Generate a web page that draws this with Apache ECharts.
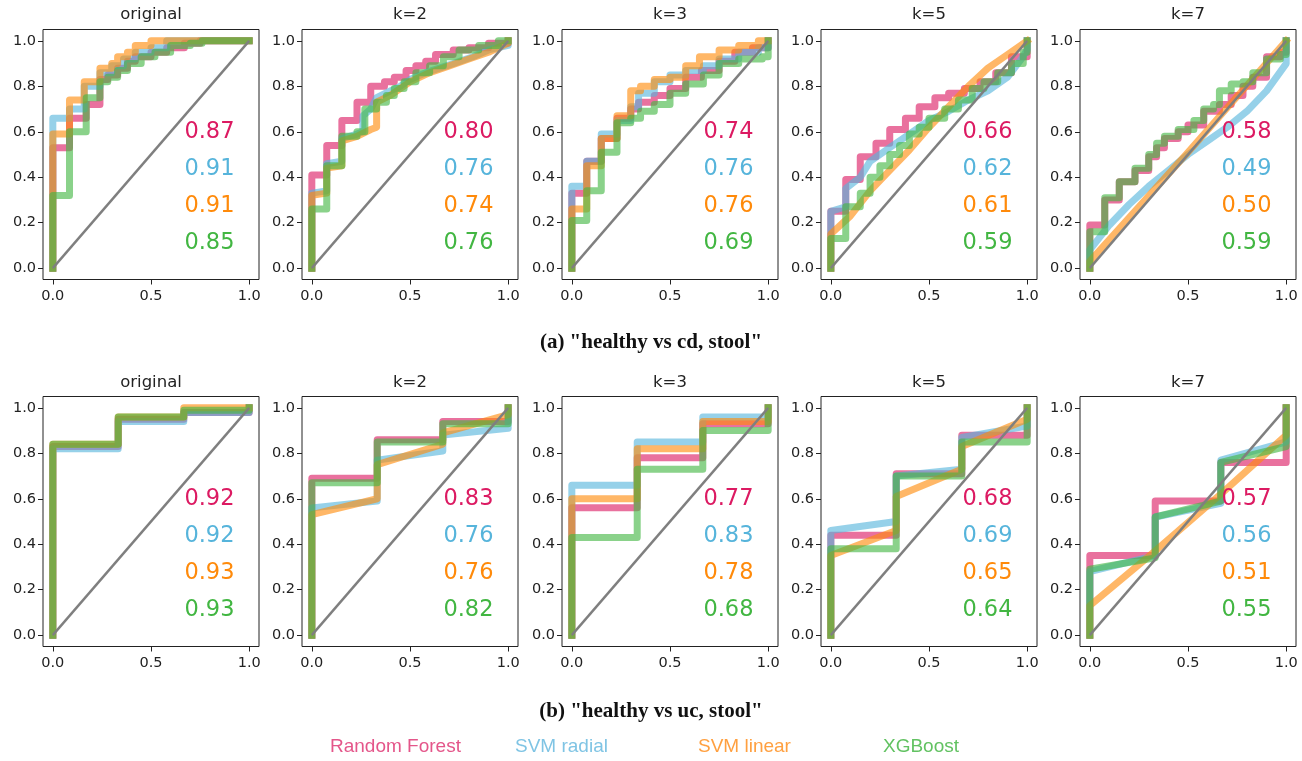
<!DOCTYPE html>
<html><head><meta charset="utf-8">
<script src="https://cdn.jsdelivr.net/npm/echarts@6/dist/echarts.min.js"></script>
<style>html,body{margin:0;padding:0;background:#fff}#c{width:1302px;height:761px}</style>
</head><body><div id="c"></div>
<script>
// ---------- DATA ----------
const panelTitles = ['original', 'k=2', 'k=3', 'k=5', 'k=7'];
const models = ['Random Forest', 'SVM radial', 'SVM linear', 'XGBoost'];
const captions = ['(a) "healthy vs cd, stool"', '(b) "healthy vs uc, stool"'];
const xTickValues = [0, 0.5, 1];
const yTickValues = [0, 0.2, 0.4, 0.6, 0.8, 1];
const diagonal = [[0, 0], [1, 1]];

// AUC values per panel: [RF, SVM radial, SVM linear, XGBoost]
const aucCd = [[0.87, 0.91, 0.91, 0.85], [0.80, 0.76, 0.74, 0.76], [0.74, 0.76, 0.76, 0.69], [0.66, 0.62, 0.61, 0.59], [0.58, 0.49, 0.50, 0.59]];
const aucUc = [[0.92, 0.92, 0.93, 0.93], [0.83, 0.76, 0.76, 0.82], [0.77, 0.83, 0.78, 0.68], [0.68, 0.69, 0.65, 0.64], [0.57, 0.56, 0.51, 0.55]];

// ROC curves [fpr, tpr]; order: RF, SVM radial, SVM linear, XGBoost
const cdOriginal = [
  [[0,0],[0,0.53],[0.085,0.53],[0.085,0.66],[0.17,0.66],[0.17,0.72],[0.24,0.72],[0.24,0.83],[0.28,0.83],[0.28,0.85],[0.33,0.85],[0.33,0.88],[0.38,0.88],[0.38,0.91],[0.42,0.91],[0.42,0.93],[0.5,0.93],[0.5,0.95],[0.58,0.95],[0.58,0.97],[0.67,0.97],[0.67,0.99],[0.75,0.99],[0.75,1],[1,1]],
  [[0,0],[0,0.66],[0.085,0.66],[0.085,0.70],[0.16,0.70],[0.16,0.80],[0.24,0.80],[0.24,0.86],[0.3,0.86],[0.3,0.89],[0.36,0.89],[0.36,0.92],[0.42,0.92],[0.42,0.95],[0.5,0.95],[0.5,0.97],[0.58,0.97],[0.58,1],[1,1]],
  [[0,0],[0,0.59],[0.085,0.59],[0.085,0.74],[0.16,0.74],[0.16,0.82],[0.24,0.82],[0.24,0.88],[0.3,0.88],[0.3,0.9],[0.33,0.9],[0.33,0.93],[0.38,0.93],[0.38,0.95],[0.42,0.95],[0.42,0.98],[0.5,0.98],[0.5,1],[1,1]],
  [[0,0],[0,0.32],[0.085,0.32],[0.085,0.60],[0.17,0.60],[0.17,0.75],[0.24,0.75],[0.24,0.82],[0.28,0.82],[0.28,0.84],[0.33,0.84],[0.33,0.87],[0.38,0.87],[0.38,0.9],[0.45,0.9],[0.45,0.93],[0.52,0.93],[0.52,0.95],[0.6,0.95],[0.6,0.98],[0.7,0.98],[0.7,0.99],[0.76,0.99],[0.76,1],[1,1]]
];
const cdK2 = [
  [[0,0],[0,0.41],[0.076,0.41],[0.076,0.54],[0.153,0.54],[0.153,0.65],[0.23,0.65],[0.23,0.73],[0.3,0.73],[0.3,0.8],[0.37,0.8],[0.37,0.82],[0.42,0.82],[0.42,0.84],[0.48,0.84],[0.48,0.87],[0.53,0.87],[0.53,0.89],[0.58,0.89],[0.58,0.91],[0.63,0.91],[0.63,0.94],[0.72,0.94],[0.72,0.96],[0.8,0.96],[0.8,0.97],[0.9,0.97],[0.9,0.99],[1,0.99],[1,1]],
  [[0,0],[0,0.33],[0.076,0.34],[0.076,0.46],[0.153,0.47],[0.153,0.57],[0.23,0.59],[0.26,0.6],[0.26,0.67],[0.3,0.7],[0.33,0.75],[0.4,0.78],[0.45,0.8],[0.5,0.83],[0.58,0.86],[0.65,0.88],[0.72,0.9],[0.82,0.93],[0.9,0.96],[1,0.98],[1,1]],
  [[0,0],[0,0.32],[0.076,0.33],[0.076,0.44],[0.153,0.45],[0.153,0.56],[0.23,0.58],[0.3,0.61],[0.33,0.62],[0.33,0.73],[0.4,0.76],[0.45,0.79],[0.5,0.82],[0.6,0.86],[0.7,0.89],[0.8,0.92],[0.9,0.95],[1,0.99],[1,1]],
  [[0,0],[0,0.26],[0.076,0.26],[0.076,0.45],[0.153,0.45],[0.153,0.58],[0.23,0.58],[0.23,0.6],[0.27,0.6],[0.27,0.7],[0.33,0.7],[0.33,0.73],[0.38,0.73],[0.38,0.76],[0.42,0.76],[0.42,0.79],[0.47,0.79],[0.47,0.82],[0.53,0.82],[0.53,0.86],[0.6,0.86],[0.6,0.89],[0.67,0.89],[0.67,0.93],[0.75,0.93],[0.75,0.96],[0.85,0.96],[0.85,0.98],[0.95,0.98],[0.95,1],[1,1]]
];
const cdK3 = [
  [[0,0],[0,0.33],[0.076,0.33],[0.076,0.47],[0.15,0.47],[0.15,0.57],[0.23,0.57],[0.23,0.66],[0.3,0.66],[0.3,0.7],[0.34,0.7],[0.34,0.73],[0.42,0.73],[0.42,0.76],[0.5,0.76],[0.5,0.79],[0.58,0.79],[0.58,0.84],[0.66,0.84],[0.66,0.87],[0.75,0.87],[0.75,0.91],[0.83,0.91],[0.83,0.95],[0.92,0.95],[0.92,0.97],[1,0.97],[1,1]],
  [[0,0],[0,0.36],[0.076,0.36],[0.076,0.47],[0.15,0.47],[0.15,0.59],[0.23,0.59],[0.23,0.65],[0.3,0.65],[0.3,0.71],[0.34,0.71],[0.34,0.77],[0.42,0.77],[0.42,0.82],[0.5,0.82],[0.5,0.85],[0.58,0.85],[0.58,0.87],[0.67,0.87],[0.67,0.89],[0.75,0.89],[0.75,0.92],[0.85,0.92],[0.85,0.95],[0.95,0.95],[0.95,0.97],[1,0.97],[1,1]],
  [[0,0],[0,0.26],[0.076,0.26],[0.076,0.45],[0.15,0.45],[0.15,0.57],[0.23,0.57],[0.23,0.67],[0.3,0.67],[0.3,0.78],[0.35,0.78],[0.35,0.8],[0.42,0.8],[0.42,0.83],[0.5,0.83],[0.5,0.84],[0.58,0.84],[0.58,0.89],[0.65,0.89],[0.65,0.93],[0.75,0.93],[0.75,0.96],[0.85,0.96],[0.85,0.98],[0.95,0.98],[0.95,1],[1,1]],
  [[0,0],[0,0.21],[0.076,0.21],[0.076,0.34],[0.15,0.34],[0.15,0.51],[0.23,0.51],[0.23,0.64],[0.3,0.64],[0.3,0.66],[0.35,0.66],[0.35,0.69],[0.42,0.69],[0.42,0.72],[0.5,0.72],[0.5,0.77],[0.58,0.77],[0.58,0.81],[0.67,0.81],[0.67,0.85],[0.75,0.85],[0.75,0.9],[0.85,0.9],[0.85,0.92],[0.97,0.92],[0.97,0.93],[1,0.93],[1,1]]
];
const cdK5 = [
  [[0,0],[0,0.25],[0.076,0.25],[0.076,0.39],[0.15,0.39],[0.15,0.49],[0.23,0.49],[0.23,0.55],[0.3,0.55],[0.3,0.61],[0.38,0.61],[0.38,0.66],[0.45,0.66],[0.45,0.71],[0.53,0.71],[0.53,0.75],[0.6,0.75],[0.6,0.77],[0.68,0.77],[0.68,0.79],[0.76,0.79],[0.76,0.82],[0.84,0.82],[0.84,0.86],[0.92,0.86],[0.92,0.93],[1,0.93],[1,1]],
  [[0,0],[0,0.25],[0.076,0.27],[0.076,0.35],[0.15,0.4],[0.2,0.47],[0.3,0.53],[0.4,0.59],[0.5,0.65],[0.6,0.69],[0.7,0.74],[0.8,0.78],[0.9,0.84],[0.97,0.92],[1,0.96],[1,1]],
  [[0,0],[0,0.15],[0.1,0.23],[0.2,0.34],[0.3,0.43],[0.4,0.52],[0.5,0.62],[0.6,0.71],[0.7,0.8],[0.8,0.88],[0.9,0.94],[1,1]],
  [[0,0],[0,0.13],[0.076,0.13],[0.076,0.27],[0.15,0.27],[0.15,0.33],[0.2,0.33],[0.2,0.4],[0.25,0.4],[0.25,0.45],[0.3,0.45],[0.3,0.5],[0.35,0.5],[0.35,0.54],[0.4,0.54],[0.4,0.59],[0.45,0.59],[0.45,0.62],[0.5,0.62],[0.5,0.66],[0.58,0.66],[0.58,0.7],[0.65,0.7],[0.65,0.74],[0.72,0.74],[0.72,0.79],[0.78,0.79],[0.78,0.82],[0.85,0.82],[0.85,0.86],[0.92,0.86],[0.92,0.9],[0.98,0.9],[0.98,0.95],[1,0.95],[1,1]]
];
const cdK7 = [
  [[0,0],[0,0.19],[0.076,0.19],[0.076,0.3],[0.15,0.3],[0.15,0.38],[0.23,0.38],[0.23,0.43],[0.3,0.43],[0.3,0.49],[0.34,0.49],[0.34,0.53],[0.38,0.53],[0.38,0.57],[0.45,0.57],[0.45,0.6],[0.5,0.6],[0.5,0.63],[0.58,0.63],[0.58,0.69],[0.66,0.69],[0.66,0.72],[0.72,0.72],[0.72,0.76],[0.78,0.76],[0.78,0.8],[0.83,0.8],[0.83,0.84],[0.9,0.84],[0.9,0.93],[0.97,0.93],[0.97,0.95],[1,0.95],[1,1]],
  [[0,0],[0,0.08],[0.1,0.19],[0.2,0.28],[0.3,0.36],[0.4,0.43],[0.5,0.5],[0.6,0.56],[0.7,0.62],[0.8,0.69],[0.9,0.78],[1,0.9],[1,1]],
  [[0,0],[0,0.03],[0.5,0.51],[1,1]],
  [[0,0],[0,0.16],[0.076,0.16],[0.076,0.31],[0.15,0.31],[0.15,0.38],[0.23,0.38],[0.23,0.44],[0.3,0.44],[0.3,0.5],[0.34,0.5],[0.34,0.55],[0.38,0.55],[0.38,0.58],[0.45,0.58],[0.45,0.61],[0.53,0.61],[0.53,0.65],[0.58,0.65],[0.58,0.7],[0.63,0.7],[0.63,0.72],[0.66,0.72],[0.66,0.78],[0.72,0.78],[0.72,0.81],[0.78,0.81],[0.78,0.82],[0.83,0.82],[0.83,0.86],[0.9,0.86],[0.9,0.92],[0.97,0.92],[0.97,0.94],[1,0.94],[1,1]]
];
const ucOriginal = [
  [[0,0],[0,0.83],[0.333,0.83],[0.333,0.95],[0.667,0.95],[0.667,0.98],[1,0.98],[1,1]],
  [[0,0],[0,0.82],[0.333,0.82],[0.333,0.94],[0.667,0.94],[0.667,0.98],[1,0.98],[1,1]],
  [[0,0],[0,0.84],[0.333,0.84],[0.333,0.96],[0.667,0.96],[0.667,1],[1,1]],
  [[0,0],[0,0.84],[0.333,0.84],[0.333,0.96],[0.667,0.96],[0.667,0.99],[1,0.99],[1,1]]
];
const ucK2 = [
  [[0,0],[0,0.69],[0.333,0.69],[0.333,0.86],[0.667,0.86],[0.667,0.94],[1,0.94],[1,1]],
  [[0,0],[0,0.56],[0.333,0.59],[0.333,0.77],[0.667,0.81],[0.667,0.88],[1,0.91],[1,1]],
  [[0,0],[0,0.53],[0.333,0.6],[0.333,0.75],[0.667,0.84],[0.667,0.89],[1,0.97],[1,1]],
  [[0,0],[0,0.67],[0.333,0.67],[0.333,0.85],[0.667,0.85],[0.667,0.93],[1,0.93],[1,1]]
];
const ucK3 = [
  [[0,0],[0,0.56],[0.333,0.56],[0.333,0.78],[0.667,0.78],[0.667,0.93],[1,0.93],[1,1]],
  [[0,0],[0,0.66],[0.333,0.66],[0.333,0.85],[0.667,0.85],[0.667,0.96],[1,0.96],[1,1]],
  [[0,0],[0,0.6],[0.333,0.6],[0.333,0.82],[0.667,0.82],[0.667,0.94],[1,0.94],[1,1]],
  [[0,0],[0,0.43],[0.333,0.43],[0.333,0.73],[0.667,0.73],[0.667,0.9],[1,0.9],[1,1]]
];
const ucK5 = [
  [[0,0],[0,0.44],[0.333,0.44],[0.333,0.71],[0.667,0.71],[0.667,0.88],[1,0.88],[1,1]],
  [[0,0],[0,0.46],[0.333,0.5],[0.333,0.7],[0.667,0.73],[0.667,0.87],[1,0.92],[1,1]],
  [[0,0],[0,0.35],[0.333,0.46],[0.333,0.61],[0.667,0.73],[0.667,0.83],[1,0.95],[1,1]],
  [[0,0],[0,0.38],[0.333,0.38],[0.333,0.7],[0.667,0.7],[0.667,0.85],[1,0.85],[1,1]]
];
const ucK7 = [
  [[0,0],[0,0.35],[0.333,0.35],[0.333,0.59],[0.667,0.59],[0.667,0.76],[1,0.76],[1,1]],
  [[0,0],[0,0.28],[0.333,0.35],[0.333,0.52],[0.667,0.58],[0.667,0.77],[1,0.85],[1,1]],
  [[0,0],[0,0.13],[0.333,0.37],[0.667,0.62],[1,0.88],[1,1]],
  [[0,0],[0,0.29],[0.333,0.34],[0.333,0.52],[0.667,0.59],[0.667,0.76],[1,0.83],[1,1]]
];

const rows = [
  { curves: [cdOriginal, cdK2, cdK3, cdK5, cdK7], auc: aucCd },
  { curves: [ucOriginal, ucK2, ucK3, ucK5, ucK7], auc: aucUc }
];

// ---------- STYLE / LAYOUT ----------
const modelColors = ['#dc1a62', '#56b4db', '#ff8a0a', '#42b642'];
const legendColors = ['#e4568a', '#7fc4e4', '#ffa040', '#62c262'];
const boxLefts = [43, 302, 562, 821, 1080];
const boxW = 216, boxH = 250;
const rowTops = [29.5, 396.5];
const titleYs = [15, 383];
const captionYs = [343, 712];
const legendXs = [330, 515, 698, 883];
const legendY = 747;
const aucYs = [0.60, 0.436, 0.272, 0.108];
const aucX = 0.67;

const grids = [], xAxes = [], yAxes = [], series = [], graphics = [];
let gi = 0;
rows.forEach((row, r) => {
  row.curves.forEach((panel, p) => {
    grids.push({ left: boxLefts[p], top: rowTops[r], width: boxW, height: boxH, show: true, borderColor: '#222', borderWidth: 1, backgroundColor: 'transparent', containLabel: false });
    xAxes.push({
      gridIndex: gi, type: 'value', min: -0.05, max: 1.05,
      axisLine: { show: false, onZero: false },
      axisTick: { show: true, length: 5, lineStyle: { color: '#222' }, customValues: xTickValues },
      axisLabel: { show: true, customValues: xTickValues, formatter: v => v.toFixed(1), color: '#222', fontSize: 14.5, fontFamily: 'DejaVu Sans', margin: 9 },
      splitLine: { show: false }
    });
    yAxes.push({
      gridIndex: gi, type: 'value', min: -0.05, max: 1.05,
      axisLine: { show: false, onZero: false },
      axisTick: { show: true, length: 5, lineStyle: { color: '#222' }, customValues: yTickValues },
      axisLabel: { show: true, customValues: yTickValues, formatter: v => v.toFixed(1), color: '#222', fontSize: 14.5, fontFamily: 'DejaVu Sans', margin: 7 },
      splitLine: { show: false }
    });
    panel.forEach((curve, m) => {
      series.push({
        type: 'line', name: models[m], xAxisIndex: gi, yAxisIndex: gi, data: curve,
        showSymbol: false, symbol: 'none', clip: false, z: 2 + m,
        lineStyle: { color: modelColors[m], width: 7, opacity: 0.62, cap: 'square', join: 'round' },
        silent: true
      });
    });
    series.push({
      type: 'line', xAxisIndex: gi, yAxisIndex: gi, data: diagonal, showSymbol: false, symbol: 'none', z: 10,
      lineStyle: { color: '#7f7f7f', width: 2.4 }, silent: true
    });
    series.push({
      type: 'scatter', xAxisIndex: gi, yAxisIndex: gi, symbolSize: 1, z: 11, silent: true,
      itemStyle: { color: 'transparent', opacity: 1 },
      data: row.auc[p].map((a, m) => ({
        value: [aucX, aucYs[m], a],
        label: { show: true, position: 'inside', align: 'left', verticalAlign: 'middle', color: modelColors[m], opacity: 1, fontSize: 22.5, fontFamily: 'DejaVu Sans', formatter: d => d.value[2].toFixed(2) }
      }))
    });
    graphics.push({ type: 'text', x: boxLefts[p] + boxW / 2, y: titleYs[r], style: { text: panelTitles[p], textAlign: 'center', textVerticalAlign: 'middle', font: '16.5px "DejaVu Sans"', fill: '#222' } });
    gi++;
  });
  graphics.push({ type: 'text', x: 651, y: captionYs[r], style: { text: captions[r], textAlign: 'center', textVerticalAlign: 'middle', font: 'bold 21px "Liberation Serif"', fill: '#111' } });
});
models.forEach((m, i) => {
  graphics.push({ type: 'text', x: legendXs[i], y: legendY, style: { text: m, textAlign: 'left', textVerticalAlign: 'middle', font: '19px "Liberation Sans"', fill: legendColors[i] } });
});

const chart = echarts.init(document.getElementById('c'), null, { renderer: 'canvas' });
chart.setOption({
  animation: false,
  backgroundColor: '#fff',
  grid: grids, xAxis: xAxes, yAxis: yAxes, series: series,
  graphic: { elements: graphics }
});
</script></body></html>
